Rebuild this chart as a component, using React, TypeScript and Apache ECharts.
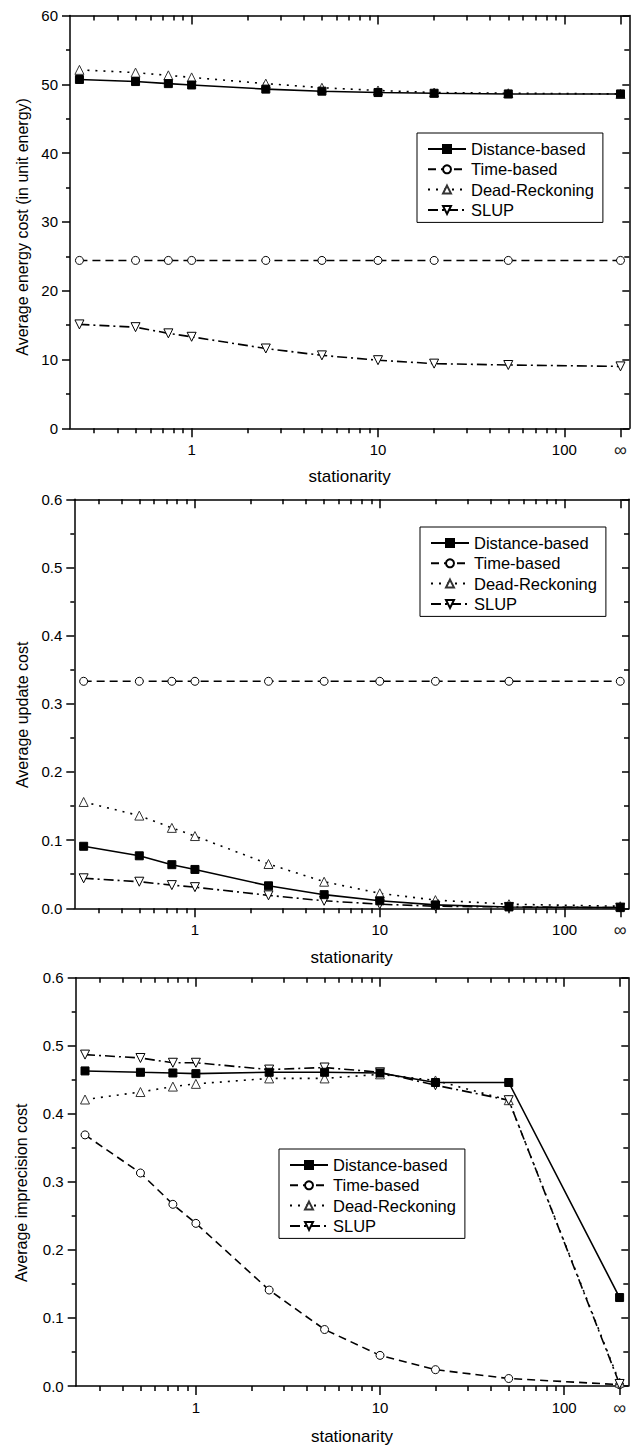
import React, { useEffect, useRef } from 'react';
import * as echarts from 'echarts';

// stationarity values; 200 stands for the "∞" position
const stationarity = [0.25, 0.5, 0.75, 1, 2.5, 5, 10, 20, 50, 200];
const xTickValues = [1, 10, 100, 200];
const xTickLabels = ['1', '10', '100', '∞'];
const xMinorTickValues = [0.3, 0.4, 0.5, 0.6, 0.7, 0.8, 0.9, 2, 3, 4, 5, 6, 7, 8, 9, 20, 30, 40, 50, 60, 70, 80, 90];
const xMin = 0.2225;
const xMax = 223;

const seriesNames = ['Distance-based', 'Time-based', 'Dead-Reckoning', 'SLUP'];

// Panel 1: Average energy cost
const energyDistance = [50.7, 50.4, 50.1, 49.9, 49.3, 49.0, 48.8, 48.7, 48.6, 48.6];
const energyTime = [24.4, 24.4, 24.4, 24.4, 24.4, 24.4, 24.4, 24.4, 24.4, 24.4];
const energyDR = [52.1, 51.7, 51.3, 51.0, 50.1, 49.5, 49.1, 48.8, 48.7, 48.6];
const energySLUP = [15.1, 14.7, 13.8, 13.3, 11.6, 10.6, 9.9, 9.4, 9.2, 9.0];

// Panel 2: Average update cost
const updateDistance = [0.091, 0.077, 0.064, 0.057, 0.033, 0.020, 0.011, 0.005, 0.002, 0.001];
const updateTime = [0.333, 0.333, 0.333, 0.333, 0.333, 0.333, 0.333, 0.333, 0.333, 0.333];
const updateDR = [0.156, 0.136, 0.118, 0.106, 0.065, 0.039, 0.022, 0.012, 0.006, 0.003];
const updateSLUP = [0.044, 0.039, 0.034, 0.031, 0.019, 0.011, 0.006, 0.003, 0.002, 0.001];

// Panel 3: Average imprecision cost
const imprecDistance = [0.463, 0.461, 0.460, 0.459, 0.461, 0.461, 0.460, 0.446, 0.446, 0.130];
const imprecTime = [0.369, 0.313, 0.267, 0.239, 0.141, 0.083, 0.045, 0.024, 0.011, 0.002];
const imprecDR = [0.421, 0.432, 0.440, 0.444, 0.452, 0.452, 0.458, 0.449, 0.420, 0.005];
const imprecSLUP = [0.487, 0.482, 0.475, 0.475, 0.465, 0.468, 0.461, 0.442, 0.420, 0.003];

const yTickEnergy = { max: 60, interval: 10 };
const yTickCost = { max: 0.6, interval: 0.1 };

const FONT = '"Liberation Sans", Arial, Helvetica, sans-serif';
const lg = (v: number) => Math.log10(v);

const seriesStyles = [
  { symbol: 'rect', size: 8, fill: '#000', stroke: '#000', dash: 'solid' as any, rotate: 0 },
  { symbol: 'circle', size: 8, fill: '#fff', stroke: '#000', dash: [8, 5], rotate: 0 },
  { symbol: 'triangle', size: 9, fill: '#fff', stroke: '#333', dash: [2, 6], rotate: 0 },
  { symbol: 'triangle', size: 9, fill: '#fff', stroke: '#000', dash: [10, 4, 2, 4], rotate: 180 },
];

const panels = [
  {
    left: 70, top: 15.5, right: 1.7, height: 412.8,
    y: yTickEnergy, decimals: 0,
    yName: 'Average energy cost (in unit energy)', yNameGap: 40, yNamePad: [0, 10, 0, 0],
    xNameGap: 40,
    legend: { left: 417, top: 133 },
    data: [energyDistance, energyTime, energyDR, energySLUP],
  },
  {
    left: 74.3, top: 499.3, right: 2, height: 409,
    y: yTickCost, decimals: 1,
    yName: 'Average update cost', yNameGap: 44, yNamePad: [0, 22, 0, 0],
    xNameGap: 41,
    legend: { left: 420, top: 527 },
    data: [updateDistance, updateTime, updateDR, updateSLUP],
  },
  {
    left: 75.7, top: 977.7, right: 2.7, height: 408.3,
    y: yTickCost, decimals: 1,
    yName: 'Average imprecision cost', yNameGap: 46, yNamePad: [0, 22, 0, 0],
    xNameGap: 42,
    legend: { left: 279, top: 1149 },
    data: [imprecDistance, imprecTime, imprecDR, imprecSLUP],
  },
];

function xLabel(v: number) {
  for (let j = 0; j < xTickValues.length; j++) {
    if (Math.abs(lg(xTickValues[j]) - v) < 1e-6) {
      const t = xTickLabels[j];
      return t === '∞' ? '{inf|' + t + '}' : t;
    }
  }
  return '';
}

function buildOption() {
  const grid: any[] = [];
  const xAxis: any[] = [];
  const yAxis: any[] = [];
  const series: any[] = [];
  const legend: any[] = [];
  const tickLine = { color: '#000', width: 1.5 };

  panels.forEach((p, i) => {
    grid.push({ left: p.left, top: p.top, right: p.right, height: p.height, outerBoundsMode: 'none' });

    const valBase = {
      type: 'value', gridIndex: i, min: lg(xMin), max: lg(xMax),
      axisLine: { show: false, onZero: false }, splitLine: { show: false }, axisLabel: { show: false },
      axisPointer: { show: false },
    };
    // data axis (log)
    xAxis.push({
      type: 'log', logBase: 10, gridIndex: i, min: xMin, max: xMax, position: 'bottom',
      axisLine: { show: true, onZero: false, lineStyle: tickLine },
      axisTick: { show: false }, axisLabel: { show: false }, splitLine: { show: false },
      name: 'stationarity', nameLocation: 'middle', nameGap: p.xNameGap,
      nameTextStyle: { fontSize: 17, color: '#000', fontFamily: FONT },
    });
    // bottom major ticks + labels
    xAxis.push({
      ...valBase, position: 'bottom',
      axisTick: { show: true, inside: false, length: 9, lineStyle: tickLine, customValues: xTickValues.map(lg) },
      axisLabel: {
        show: true, customValues: xTickValues.map(lg), formatter: (v: number) => xLabel(v),
        fontSize: 15, color: '#000', fontFamily: FONT, margin: 14,
        rich: { inf: { fontSize: 18, lineHeight: 15, color: '#222', fontFamily: FONT } },
      },
    });
    // bottom minor ticks
    xAxis.push({
      ...valBase, position: 'bottom',
      axisTick: { show: true, inside: false, length: 5, lineStyle: tickLine, customValues: xMinorTickValues.map(lg) },
    });
    // top major ticks (with top line)
    xAxis.push({
      ...valBase, position: 'top',
      axisLine: { show: true, onZero: false, lineStyle: tickLine },
      axisTick: { show: true, inside: true, length: 9, lineStyle: tickLine, customValues: xTickValues.map(lg) },
    });
    // top minor ticks
    xAxis.push({
      ...valBase, position: 'top',
      axisTick: { show: true, inside: true, length: 5, lineStyle: tickLine, customValues: xMinorTickValues.map(lg) },
    });

    yAxis.push({
      type: 'value', gridIndex: i, position: 'left', min: 0, max: p.y.max, interval: p.y.interval,
      axisLine: { show: true, onZero: false, lineStyle: tickLine },
      axisTick: { show: true, inside: false, length: 8, lineStyle: tickLine },
      minorTick: { show: true, splitNumber: 2, length: 4, lineStyle: tickLine },
      splitLine: { show: false }, minorSplitLine: { show: false },
      axisLabel: {
        fontSize: 15, color: '#000', fontFamily: FONT, margin: 12,
        formatter: (v: number) => v.toFixed(p.decimals),
      },
      name: p.yName, nameLocation: 'middle', nameGap: p.yNameGap,
      nameTextStyle: { fontSize: 16, color: '#000', fontFamily: FONT, padding: p.yNamePad },
    });
    yAxis.push({
      type: 'value', gridIndex: i, position: 'right', min: 0, max: p.y.max, interval: p.y.interval,
      axisLine: { show: true, onZero: false, lineStyle: tickLine },
      axisTick: { show: true, inside: true, length: 7, lineStyle: tickLine },
      minorTick: { show: true, splitNumber: 2, length: 5, lineStyle: tickLine },
      splitLine: { show: false }, minorSplitLine: { show: false },
      axisLabel: { show: false },
    });

    p.data.forEach((vals, k) => {
      const st = seriesStyles[k];
      series.push({
        type: 'line', name: seriesNames[k],
        xAxisIndex: i * 5, yAxisIndex: i * 2,
        data: stationarity.map((x, n) => [x, vals[n]]),
        symbol: st.symbol, symbolSize: st.size, symbolRotate: st.rotate, showAllSymbol: true,
        itemStyle: { color: st.fill, borderColor: st.stroke, borderWidth: 1 },
        lineStyle: { color: '#000', width: 1.6, type: st.dash },
        z: 3 + (k === 0 ? 1 : 0),
      });
    });

    legend.push({
      show: true, orient: 'vertical', left: p.legend.left, top: p.legend.top,
      data: seriesNames, selectedMode: false,
      itemWidth: 38, itemHeight: 10, itemGap: 3.3,
      borderColor: '#000', borderWidth: 1, borderRadius: 0, padding: [7.5, 9, 4, 10],
      backgroundColor: '#fff',
      textStyle: { fontSize: 16.5, color: '#000', fontFamily: FONT },
    });
  });

  return {
    animation: false,
    backgroundColor: '#fff',
    textStyle: { fontFamily: FONT },
    grid, xAxis, yAxis, series, legend,
  };
}

export default function App() {
  const ref = useRef<HTMLDivElement>(null);
  useEffect(() => {
    if (!ref.current) return;
    const chart = echarts.init(ref.current, undefined, { renderer: 'svg' });
    chart.setOption(buildOption() as any);
    return () => chart.dispose();
  }, []);
  return (
    <div
      ref={ref}
      style={{ position: 'absolute', left: 0, top: 0, width: 631, height: 1450, background: '#fff' }}
    />
  );
}
